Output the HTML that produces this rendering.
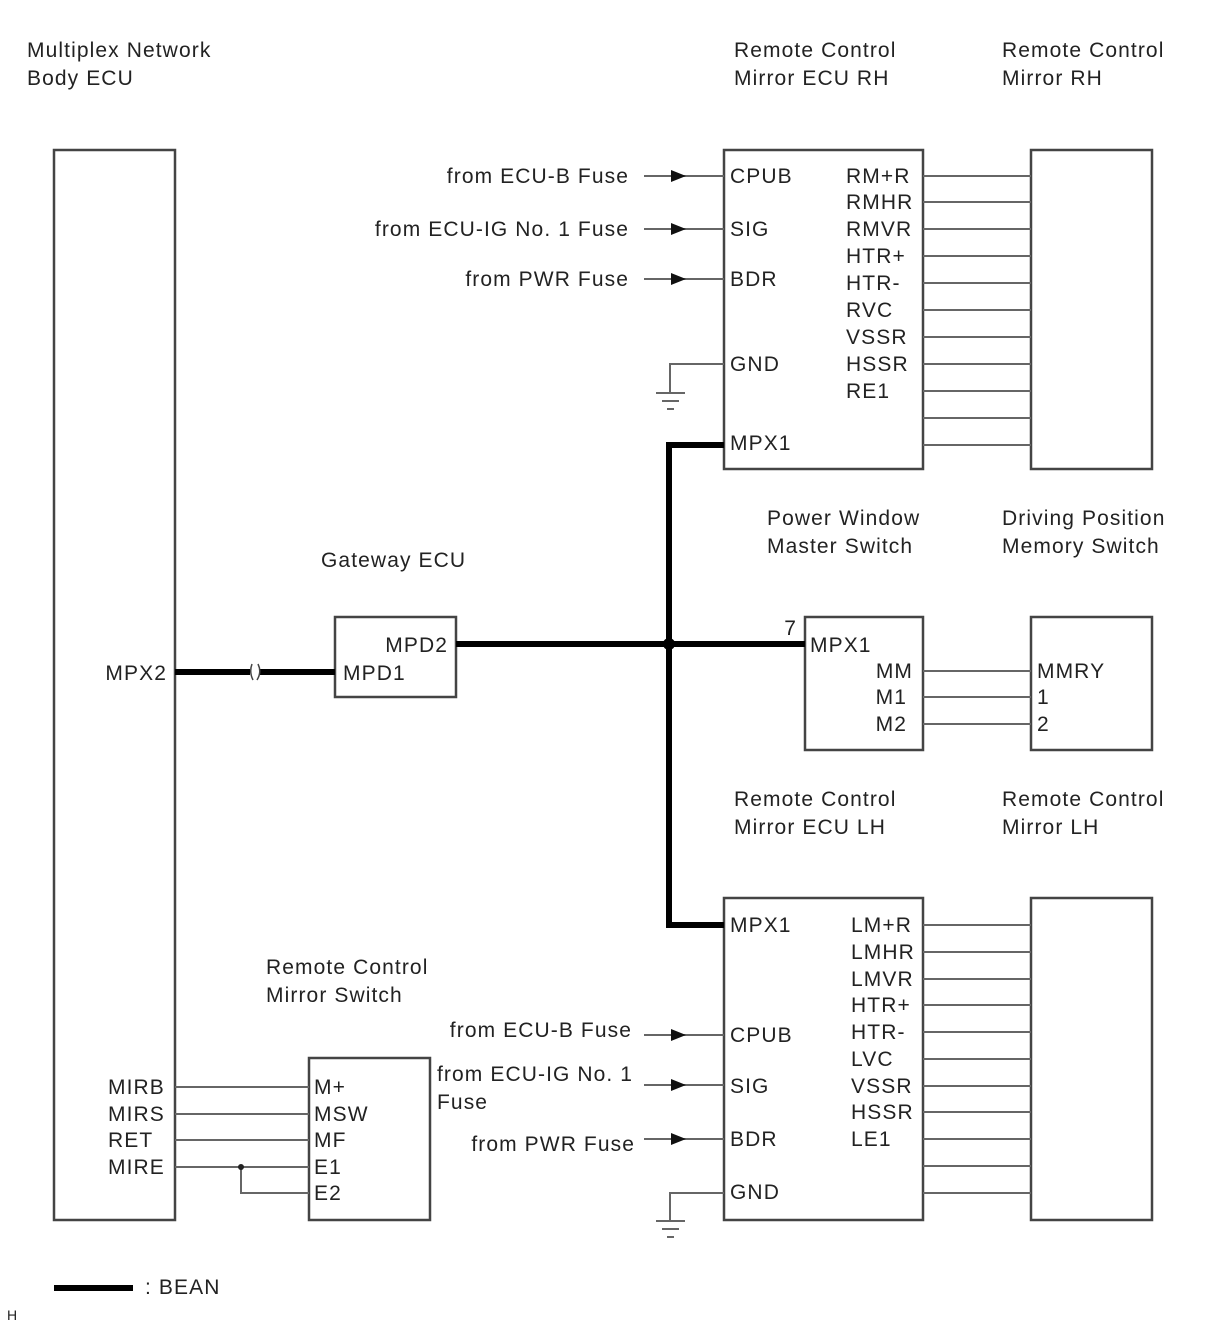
<!DOCTYPE html>
<html><head><meta charset="utf-8"><style>
html,body{margin:0;padding:0;background:#fff;}
svg{display:block;}
text{font-family:"Liberation Sans",Arial,sans-serif;font-size:21px;letter-spacing:1.1px;fill:#222;}
</style></head><body>
<svg width="1210" height="1328" viewBox="0 0 1210 1328" xmlns="http://www.w3.org/2000/svg">
<defs>
<g id="arr"><polygon points="671,-6 686,0 671,6" fill="#111"/></g>
</defs>
<text x="27" y="57">Multiplex Network</text>
<text x="27" y="85">Body ECU</text>
<text x="734" y="57">Remote Control</text>
<text x="734" y="85">Mirror ECU RH</text>
<text x="1002" y="57">Remote Control</text>
<text x="1002" y="85">Mirror RH</text>
<text x="767" y="525">Power Window</text>
<text x="767" y="553">Master Switch</text>
<text x="1002" y="525">Driving Position</text>
<text x="1002" y="553">Memory Switch</text>
<text x="321" y="567">Gateway ECU</text>
<text x="734" y="806">Remote Control</text>
<text x="734" y="834">Mirror ECU LH</text>
<text x="1002" y="806">Remote Control</text>
<text x="1002" y="834">Mirror LH</text>
<text x="266" y="974">Remote Control</text>
<text x="266" y="1002">Mirror Switch</text>

<g fill="none" stroke="#444" stroke-width="2.5">
<rect x="54" y="150" width="121" height="1070"/>
<rect x="724" y="150" width="199" height="319"/>
<rect x="1031" y="150" width="121" height="319"/>
<rect x="335" y="617" width="121" height="80"/>
<rect x="805" y="617" width="118" height="133"/>
<rect x="1031" y="617" width="121" height="133"/>
<rect x="724" y="898" width="199" height="322"/>
<rect x="1031" y="898" width="121" height="322"/>
<rect x="309" y="1058" width="121" height="162"/>
</g>

<g stroke="#666" stroke-width="2">
<line x1="923" y1="176" x2="1031" y2="176"/><line x1="923" y1="202" x2="1031" y2="202"/>
<line x1="923" y1="229" x2="1031" y2="229"/><line x1="923" y1="256" x2="1031" y2="256"/>
<line x1="923" y1="283" x2="1031" y2="283"/><line x1="923" y1="310" x2="1031" y2="310"/>
<line x1="923" y1="337" x2="1031" y2="337"/><line x1="923" y1="364" x2="1031" y2="364"/>
<line x1="923" y1="391" x2="1031" y2="391"/><line x1="923" y1="418" x2="1031" y2="418"/>
<line x1="923" y1="445" x2="1031" y2="445"/>
<line x1="923" y1="925" x2="1031" y2="925"/><line x1="923" y1="952" x2="1031" y2="952"/>
<line x1="923" y1="979" x2="1031" y2="979"/><line x1="923" y1="1005" x2="1031" y2="1005"/>
<line x1="923" y1="1032" x2="1031" y2="1032"/><line x1="923" y1="1059" x2="1031" y2="1059"/>
<line x1="923" y1="1086" x2="1031" y2="1086"/><line x1="923" y1="1112" x2="1031" y2="1112"/>
<line x1="923" y1="1139" x2="1031" y2="1139"/><line x1="923" y1="1166" x2="1031" y2="1166"/>
<line x1="923" y1="1193" x2="1031" y2="1193"/>
<line x1="923" y1="671" x2="1031" y2="671"/><line x1="923" y1="697" x2="1031" y2="697"/>
<line x1="923" y1="724" x2="1031" y2="724"/>
<line x1="644" y1="176" x2="724" y2="176"/><line x1="644" y1="229" x2="724" y2="229"/>
<line x1="644" y1="279" x2="724" y2="279"/>
<line x1="644" y1="1035" x2="724" y2="1035"/><line x1="644" y1="1085" x2="724" y2="1085"/>
<line x1="644" y1="1139" x2="724" y2="1139"/>
<polyline points="724,364 670,364 670,392" fill="none"/>
<line x1="656" y1="393" x2="685" y2="393"/><line x1="662" y1="401" x2="679" y2="401"/><line x1="667" y1="409" x2="674" y2="409"/>
<polyline points="724,1193 670,1193 670,1220" fill="none"/>
<line x1="656" y1="1221" x2="685" y2="1221"/><line x1="662" y1="1229" x2="679" y2="1229"/><line x1="667" y1="1237" x2="674" y2="1237"/>
<line x1="175" y1="1087" x2="309" y2="1087"/><line x1="175" y1="1114" x2="309" y2="1114"/>
<line x1="175" y1="1140" x2="309" y2="1140"/><line x1="175" y1="1167" x2="309" y2="1167"/>
<polyline points="241,1167 241,1193 309,1193" fill="none"/>
</g>
<circle cx="241" cy="1167" r="3" fill="#222"/>
<use href="#arr" transform="translate(0,176)"/><use href="#arr" transform="translate(0,229)"/>
<use href="#arr" transform="translate(0,279)"/><use href="#arr" transform="translate(0,1035)"/>
<use href="#arr" transform="translate(0,1085)"/><use href="#arr" transform="translate(0,1139)"/>

<g stroke="#000" stroke-width="6" fill="none">
<polyline points="724,445 669,445 669,925 724,925"/>
<line x1="456" y1="644" x2="805" y2="644"/>
<line x1="175" y1="672" x2="250" y2="672"/>
<line x1="260" y1="672" x2="335" y2="672"/>
<line x1="54" y1="1288" x2="133" y2="1288"/>
</g>
<path d="M252,664 q-3,8 1,16 M258,664 q4,8 -1,16" stroke="#444" stroke-width="1.5" fill="none"/>
<circle cx="669" cy="644" r="6" fill="#000"/>

<g text-anchor="end">
<text x="629" y="183">from ECU-B Fuse</text>
<text x="629" y="236">from ECU-IG No. 1 Fuse</text>
<text x="629" y="286">from PWR Fuse</text>
<text x="632" y="1037">from ECU-B Fuse</text>
<text x="635" y="1151">from PWR Fuse</text>
<text x="167" y="680">MPX2</text>
<text x="448" y="652">MPD2</text>
<text x="913" y="678">MM</text>
<text x="907" y="704">M1</text>
<text x="907" y="731">M2</text>
<text x="797" y="635">7</text>
</g>
<text x="437" y="1081">from ECU-IG No. 1</text>
<text x="437" y="1109">Fuse</text>
<text x="343" y="680">MPD1</text>
<text x="810" y="652">MPX1</text>
<text x="1037" y="678">MMRY</text>
<text x="1037" y="704">1</text>
<text x="1037" y="731">2</text>
<g>
<text x="730" y="183">CPUB</text><text x="730" y="236">SIG</text><text x="730" y="286">BDR</text>
<text x="730" y="371">GND</text><text x="730" y="450">MPX1</text>
<text x="846" y="183">RM+R</text><text x="846" y="209">RMHR</text><text x="846" y="236">RMVR</text>
<text x="846" y="263">HTR+</text><text x="846" y="290">HTR-</text><text x="846" y="317">RVC</text>
<text x="846" y="344">VSSR</text><text x="846" y="371">HSSR</text><text x="846" y="398">RE1</text>
<text x="730" y="932">MPX1</text><text x="730" y="1042">CPUB</text><text x="730" y="1093">SIG</text>
<text x="730" y="1146">BDR</text><text x="730" y="1199">GND</text>
<text x="851" y="932">LM+R</text><text x="851" y="959">LMHR</text><text x="851" y="986">LMVR</text>
<text x="851" y="1012">HTR+</text><text x="851" y="1039">HTR-</text><text x="851" y="1066">LVC</text>
<text x="851" y="1093">VSSR</text><text x="851" y="1119">HSSR</text><text x="851" y="1146">LE1</text>
<text x="108" y="1094">MIRB</text><text x="108" y="1121">MIRS</text><text x="108" y="1147">RET</text>
<text x="108" y="1174">MIRE</text>
<text x="314" y="1094">M+</text><text x="314" y="1121">MSW</text><text x="314" y="1147">MF</text>
<text x="314" y="1174">E1</text><text x="314" y="1200">E2</text>
</g>
<text x="145" y="1294">: BEAN</text>
<text x="7" y="1320" style="font-size:14px;letter-spacing:0">H</text>
</svg>
</body></html>
